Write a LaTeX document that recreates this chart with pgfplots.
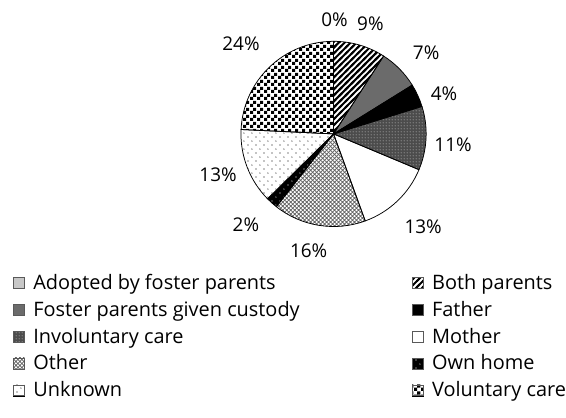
\documentclass[border=0pt]{standalone}
\usepackage{fontspec}
\setmainfont{Open Sans}
\usepackage{pgfplots}
\pgfplotsset{compat=1.18}
\usepackage{pgfplotstable}
\usetikzlibrary{patterns}

% ---------- patterns ----------
\pgfdeclarepatternformonly{wideNE}{\pgfqpoint{-2bp}{-2bp}}{\pgfqpoint{8bp}{8bp}}{\pgfqpoint{6bp}{6bp}}{%
  \pgfsetlinewidth{2bp}%
  \pgfpathmoveto{\pgfqpoint{-1.5bp}{-1.5bp}}\pgfpathlineto{\pgfqpoint{7.5bp}{7.5bp}}\pgfusepath{stroke}}
\pgfdeclarepatternformonly{checker}{\pgfqpoint{0bp}{0bp}}{\pgfqpoint{6.6bp}{6.6bp}}{\pgfqpoint{6.6bp}{6.6bp}}{%
  \pgfpathrectangle{\pgfqpoint{0bp}{0bp}}{\pgfqpoint{3.3bp}{3.3bp}}%
  \pgfpathrectangle{\pgfqpoint{3.3bp}{3.3bp}}{\pgfqpoint{3.3bp}{3.3bp}}\pgfusepath{fill}}
\pgfdeclarepatternformonly{diamonds}{\pgfqpoint{-1bp}{-1bp}}{\pgfqpoint{5bp}{5bp}}{\pgfqpoint{4bp}{4bp}}{%
  \pgfsetlinewidth{0.7bp}%
  \pgfpathmoveto{\pgfqpoint{-0.5bp}{-0.5bp}}\pgfpathlineto{\pgfqpoint{4.5bp}{4.5bp}}%
  \pgfpathmoveto{\pgfqpoint{-0.5bp}{4.5bp}}\pgfpathlineto{\pgfqpoint{4.5bp}{-0.5bp}}\pgfusepath{stroke}}
\pgfdeclarepatternformonly{sparsedots}{\pgfqpoint{0bp}{0bp}}{\pgfqpoint{8bp}{8bp}}{\pgfqpoint{8bp}{8bp}}{%
  \pgfpathcircle{\pgfqpoint{2bp}{2bp}}{0.55bp}\pgfpathcircle{\pgfqpoint{6bp}{6bp}}{0.55bp}\pgfusepath{fill}}
\pgfdeclarepatternformonly{finedots}{\pgfqpoint{0bp}{0bp}}{\pgfqpoint{2.6bp}{2.6bp}}{\pgfqpoint{2.6bp}{2.6bp}}{%
  \pgfpathcircle{\pgfqpoint{1.3bp}{1.3bp}}{0.55bp}\pgfusepath{fill}}

\tikzset{
  slice0/.style={fill=black!22},
  slice1/.style={fill=white, postaction={pattern=wideNE, pattern color=black}},
  slice2/.style={fill=black!58},
  slice3/.style={fill=black},
  slice4/.style={fill=black!70, postaction={pattern=finedots, pattern color=white}},
  slice5/.style={fill=white},
  slice6/.style={fill=white, postaction={pattern=diamonds, pattern color=black!60}},
  slice7/.style={fill=black, postaction={pattern=sparsedots, pattern color=white}},
  slice8/.style={fill=white, postaction={pattern=sparsedots, pattern color=black}},
  slice9/.style={fill=white, postaction={pattern=checker, pattern color=black}},
}
\newcommand{\legbox}[1]{%
  \fill[#1] (0bp,-3.5bp) rectangle (11bp,7.5bp);
  \draw[black!65, line width=0.6bp] (0bp,-3.5bp) rectangle (11bp,7.5bp);
  \path (20bp,0bp);}

% ---------- data ----------
\pgfplotstableread{
label value
Adopted 0
Both 9
Foster 7
Father 4
Involuntary 11
Mother 13
Other 16
Own 2
Unknown 13
Voluntary 24
}\piedata

\def\pietotal{0}
\pgfplotsforeachungrouped \i in {0,...,9}{%
  \pgfplotstablegetelem{\i}{value}\of\piedata
  \pgfmathsetmacro\pietotal{\pietotal+\pgfplotsretval}%
}
\def\piecum{0}
\pgfplotsforeachungrouped \i in {0,...,9}{%
  \pgfplotstablegetelem{\i}{value}\of\piedata
  \pgfmathsetmacro\tmpa{90-(\piecum/\pietotal)*360}%
  \expandafter\let\csname sliceA\i\endcsname\tmpa
  \pgfmathsetmacro\piecum{\piecum+\pgfplotsretval}%
  \pgfmathsetmacro\tmpb{90-(\piecum/\pietotal)*360}%
  \expandafter\let\csname sliceB\i\endcsname\tmpb
}

\newcommand{\lbl}{\fontsize{19bp}{22bp}\selectfont}
\newcommand{\leg}{\fontsize{20bp}{23bp}\selectfont}

\begin{document}
\begin{tikzpicture}
\begin{axis}[
  width=566bp, height=419bp, scale only axis,
  xmin=0, xmax=566, ymin=0, ymax=419, enlargelimits=false,
  hide axis, clip=false,
  legend columns=2,
  legend cell align=left,
  legend style={draw=none, fill=white, inner sep=0pt, outer sep=0pt,
    at={(axis cs:13,141.5)}, anchor=north west,
    font=\leg, column sep=0pt, row sep=10bp,
    nodes={inner sep=0pt, text height=13bp, text depth=4bp}},
]
% slices (fills)
\pgfplotsinvokeforeach{1,...,9}{%
  \edef\tmp{\noexpand\fill[slice#1] (axis cs:335,284.5) -- ++(\csname sliceA#1\endcsname:93bp) arc[start angle=\csname sliceA#1\endcsname, end angle=\csname sliceB#1\endcsname, radius=93bp] -- cycle;}%
  \tmp
}
% slices (outlines)
\pgfplotsinvokeforeach{1,...,9}{%
  \edef\tmp{\noexpand\draw[black, line width=0.75bp, line join=round] (axis cs:335,284.5) -- ++(\csname sliceA#1\endcsname:93bp) arc[start angle=\csname sliceA#1\endcsname, end angle=\csname sliceB#1\endcsname, radius=93bp] -- cycle;}%
  \tmp
}
% data labels
\node[font=\lbl] at (axis cs:336,399) {0\%};
\node[font=\lbl] at (axis cs:372,395) {9\%};
\node[font=\lbl] at (axis cs:428,366) {7\%};
\node[font=\lbl] at (axis cs:446,325) {4\%};
\node[font=\lbl] at (axis cs:455,274) {11\%};
\node[font=\lbl] at (axis cs:425,191) {13\%};
\node[font=\lbl] at (axis cs:310,167) {16\%};
\node[font=\lbl] at (axis cs:247,193) {2\%};
\node[font=\lbl] at (axis cs:219,243) {13\%};
\node[font=\lbl] at (axis cs:242,375) {24\%};

\addlegendimage{legend image code/.code={\legbox{slice0}}}\addlegendentry{\makebox[380bp][l]{Adopted by foster parents}}
\addlegendimage{legend image code/.code={\legbox{slice1}}}\addlegendentry{Both parents}
\addlegendimage{legend image code/.code={\legbox{slice2}}}\addlegendentry{\makebox[380bp][l]{Foster parents given custody}}
\addlegendimage{legend image code/.code={\legbox{slice3}}}\addlegendentry{Father}
\addlegendimage{legend image code/.code={\legbox{slice4}}}\addlegendentry{\makebox[380bp][l]{Involuntary care}}
\addlegendimage{legend image code/.code={\legbox{slice5}}}\addlegendentry{Mother}
\addlegendimage{legend image code/.code={\legbox{slice6}}}\addlegendentry{\makebox[380bp][l]{Other}}
\addlegendimage{legend image code/.code={\legbox{slice7}}}\addlegendentry{Own home}
\addlegendimage{legend image code/.code={\legbox{slice8}}}\addlegendentry{\makebox[380bp][l]{Unknown}}
\addlegendimage{legend image code/.code={\legbox{slice9}}}\addlegendentry{Voluntary care}
\end{axis}
\path (current axis.south west) (current axis.north east);
\end{tikzpicture}
\end{document}
